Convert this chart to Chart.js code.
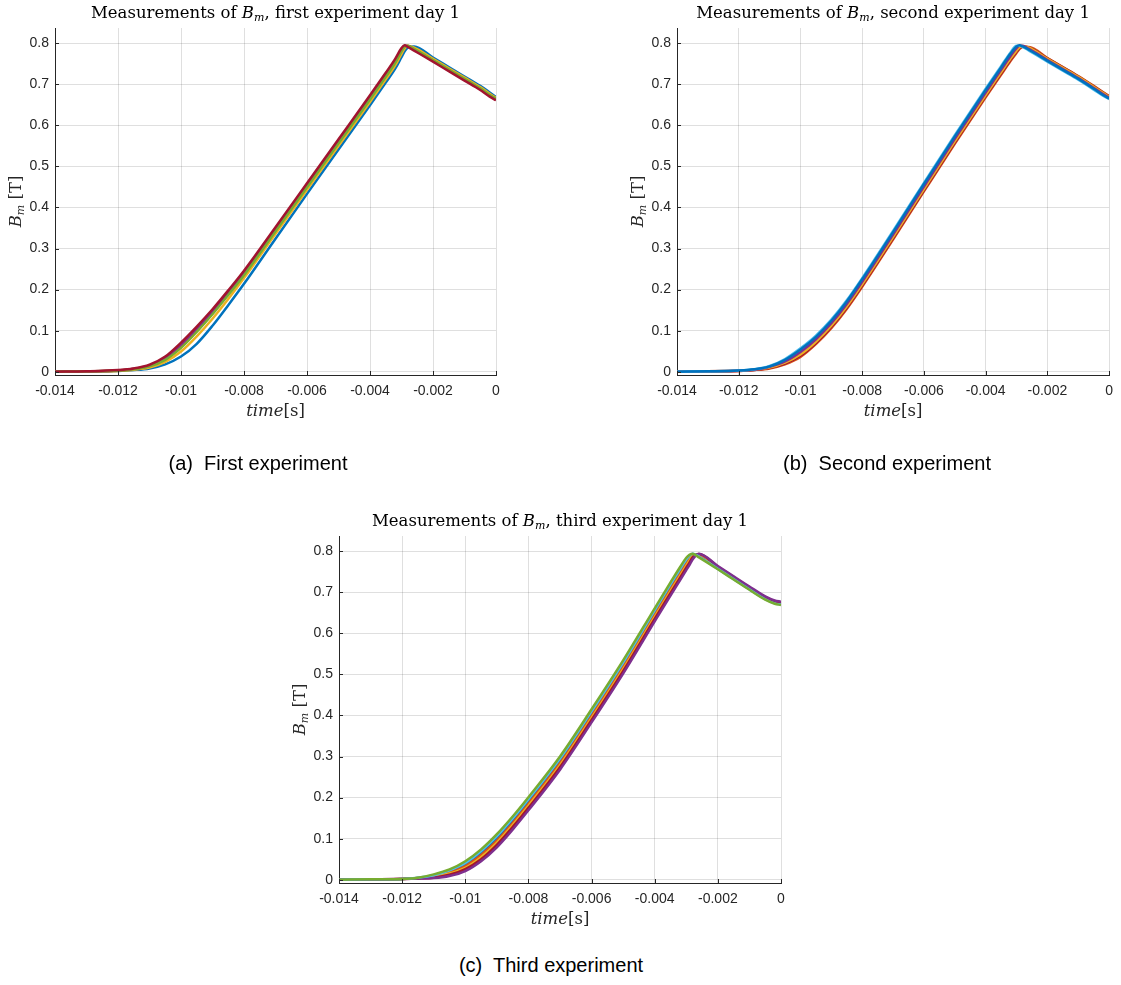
<!DOCTYPE html>
<html>
<head>
<meta charset="utf-8">
<script src="https://cdn.jsdelivr.net/npm/chart.js@4.4.1/dist/chart.umd.min.js"></script>
<style>
  body { margin: 0; background: #fff; width: 1121px; height: 985px; position: relative; overflow: hidden; }
  .box { position: absolute; }
  .cap { position: absolute; font: 20px "Liberation Sans", Arial, sans-serif; color: #000; white-space: pre; transform: translateX(-50%); }
</style>
</head>
<body>
<div class="box" style="left:0;top:0"><canvas id="chart-a" width="520" height="440"></canvas></div>
<div class="box" style="left:620px;top:0"><canvas id="chart-b" width="501" height="440"></canvas></div>
<div class="box" style="left:280px;top:470px"><canvas id="chart-c" width="540" height="470"></canvas></div>
<div class="cap" style="left:258px;top:452px">(a)  First experiment</div>
<div class="cap" style="left:887px;top:452px">(b)  Second experiment</div>
<div class="cap" style="left:551px;top:954px">(c)  Third experiment</div>
<script>
// time axis shared by every trace [s]
const T = [-0.014, -0.013, -0.012, -0.0115, -0.011, -0.0105, -0.01, -0.0095, -0.009, -0.0085, -0.008,
           -0.007, -0.006, -0.005, -0.004, -0.0035, -0.0032, -0.003, -0.0029, -0.0028, -0.0026,
           -0.002, -0.0015, -0.001, -0.0005, -0.0002, 0];

// first experiment
const aRed    = [0.000, 0.001, 0.004, 0.008, 0.017, 0.037, 0.071, 0.110, 0.152, 0.198, 0.246, 0.352, 0.459, 0.566, 0.673, 0.728, 0.762, 0.788, 0.795, 0.791, 0.782, 0.755, 0.732, 0.709, 0.686, 0.670, 0.661];
const aPurple = [0.000, 0.001, 0.003, 0.007, 0.015, 0.034, 0.066, 0.104, 0.146, 0.193, 0.242, 0.348, 0.455, 0.562, 0.669, 0.724, 0.758, 0.785, 0.794, 0.793, 0.784, 0.757, 0.734, 0.711, 0.688, 0.672, 0.663];
const aOrange = [0.000, 0.001, 0.003, 0.007, 0.014, 0.031, 0.062, 0.100, 0.143, 0.190, 0.239, 0.345, 0.452, 0.559, 0.666, 0.721, 0.755, 0.782, 0.793, 0.794, 0.785, 0.758, 0.735, 0.712, 0.689, 0.673, 0.664];
const aGreen  = [0.000, 0.001, 0.003, 0.006, 0.013, 0.029, 0.058, 0.097, 0.140, 0.187, 0.235, 0.342, 0.449, 0.556, 0.663, 0.718, 0.752, 0.780, 0.791, 0.794, 0.786, 0.759, 0.736, 0.713, 0.690, 0.674, 0.665];
const aYellow = [0.000, 0.001, 0.002, 0.005, 0.010, 0.024, 0.049, 0.086, 0.129, 0.177, 0.228, 0.336, 0.443, 0.550, 0.657, 0.712, 0.746, 0.774, 0.787, 0.793, 0.789, 0.762, 0.739, 0.716, 0.693, 0.677, 0.667];
const aBlue   = [0.000, 0.001, 0.002, 0.004, 0.008, 0.018, 0.037, 0.068, 0.112, 0.162, 0.214, 0.324, 0.433, 0.541, 0.649, 0.704, 0.738, 0.766, 0.780, 0.789, 0.792, 0.765, 0.742, 0.719, 0.696, 0.680, 0.669];

// second experiment
const bBlue      = [0.000, 0.001, 0.003, 0.006, 0.013, 0.029, 0.054, 0.085, 0.124, 0.171, 0.225, 0.340, 0.457, 0.573, 0.686, 0.741, 0.774, 0.792, 0.795, 0.792, 0.784, 0.757, 0.735, 0.713, 0.689, 0.674, 0.665];
const bLightBlue = [0.000, 0.001, 0.003, 0.006, 0.014, 0.031, 0.057, 0.088, 0.127, 0.174, 0.228, 0.343, 0.460, 0.576, 0.689, 0.744, 0.777, 0.794, 0.794, 0.791, 0.782, 0.755, 0.733, 0.711, 0.687, 0.672, 0.664];
const bPurple    = [0.000, 0.001, 0.003, 0.005, 0.012, 0.025, 0.048, 0.079, 0.118, 0.165, 0.219, 0.334, 0.451, 0.567, 0.680, 0.735, 0.768, 0.788, 0.794, 0.794, 0.786, 0.759, 0.737, 0.715, 0.691, 0.676, 0.667];
const bYellow    = [0.000, 0.001, 0.003, 0.005, 0.010, 0.022, 0.042, 0.073, 0.112, 0.159, 0.213, 0.328, 0.445, 0.561, 0.674, 0.729, 0.762, 0.782, 0.790, 0.793, 0.789, 0.762, 0.740, 0.718, 0.694, 0.679, 0.669];
const bRed       = [0.000, 0.001, 0.002, 0.004, 0.009, 0.020, 0.039, 0.070, 0.109, 0.156, 0.210, 0.325, 0.442, 0.558, 0.671, 0.726, 0.759, 0.779, 0.788, 0.792, 0.790, 0.763, 0.741, 0.719, 0.695, 0.680, 0.670];
const bOrange    = [0.000, 0.001, 0.002, 0.004, 0.008, 0.018, 0.036, 0.067, 0.106, 0.153, 0.207, 0.322, 0.439, 0.555, 0.668, 0.723, 0.756, 0.776, 0.786, 0.791, 0.791, 0.764, 0.742, 0.720, 0.696, 0.681, 0.671];

// third experiment
const cGreen     = [0.000, 0.001, 0.002, 0.005, 0.013, 0.025, 0.045, 0.074, 0.111, 0.154, 0.201, 0.300, 0.415, 0.534, 0.661, 0.724, 0.761, 0.784, 0.791, 0.794, 0.785, 0.756, 0.731, 0.706, 0.682, 0.672, 0.669];
const cLightBlue = [0.000, 0.001, 0.002, 0.005, 0.011, 0.023, 0.041, 0.070, 0.106, 0.149, 0.196, 0.295, 0.410, 0.529, 0.656, 0.719, 0.756, 0.780, 0.789, 0.794, 0.787, 0.757, 0.732, 0.707, 0.683, 0.673, 0.670];
const cBlue      = [0.000, 0.001, 0.002, 0.004, 0.010, 0.020, 0.037, 0.065, 0.100, 0.143, 0.190, 0.289, 0.404, 0.523, 0.650, 0.713, 0.750, 0.775, 0.785, 0.793, 0.789, 0.759, 0.734, 0.709, 0.685, 0.675, 0.672];
const cOrange    = [0.000, 0.001, 0.002, 0.004, 0.008, 0.017, 0.033, 0.060, 0.095, 0.138, 0.185, 0.284, 0.399, 0.518, 0.645, 0.708, 0.745, 0.770, 0.781, 0.792, 0.791, 0.760, 0.735, 0.710, 0.686, 0.676, 0.673];
const cYellow    = [0.000, 0.001, 0.002, 0.004, 0.007, 0.015, 0.029, 0.055, 0.090, 0.133, 0.180, 0.279, 0.394, 0.513, 0.640, 0.703, 0.740, 0.765, 0.777, 0.789, 0.792, 0.761, 0.736, 0.711, 0.687, 0.677, 0.674];
const cRed       = [0.000, 0.001, 0.002, 0.003, 0.005, 0.012, 0.026, 0.050, 0.085, 0.128, 0.175, 0.274, 0.389, 0.508, 0.635, 0.698, 0.735, 0.760, 0.772, 0.785, 0.793, 0.762, 0.737, 0.712, 0.688, 0.678, 0.675];
const cPurple    = [0.000, 0.001, 0.002, 0.003, 0.004, 0.009, 0.021, 0.045, 0.079, 0.122, 0.169, 0.268, 0.383, 0.502, 0.629, 0.692, 0.729, 0.754, 0.766, 0.780, 0.794, 0.764, 0.739, 0.714, 0.690, 0.680, 0.677];

const xTicks = [-0.014, -0.012, -0.01, -0.008, -0.006, -0.004, -0.002, 0];
const xTickLabels = ['-0.014', '-0.012', '-0.01', '-0.008', '-0.006', '-0.004', '-0.002', '0'];
const yTicks = [0, 0.1, 0.2, 0.3, 0.4, 0.5, 0.6, 0.7, 0.8];
const yTickLabels = ['0', '0.1', '0.2', '0.3', '0.4', '0.5', '0.6', '0.7', '0.8'];

const BLUE = '#0072BD', ORANGE = '#D95319', YELLOW = '#EDB120', PURPLE = '#7E2F8E',
      GREEN = '#77AC30', LIGHTBLUE = '#4DBEEE', DARKRED = '#A2142F';

const serif = '"DejaVu Serif", "Liberation Serif", serif';
const sans = '"Liberation Sans", Arial, sans-serif';
const AXIS = '#262626';

function series(values, color) {
    return {
        data: T.map((t, i) => ({ x: t, y: values[i] })),
        borderColor: color,
        borderWidth: 2.5,
        pointRadius: 0,
        fill: false,
        cubicInterpolationMode: 'monotone'
    };
}

function drawParts(ctx, parts, cx, y) {
    let w = 0;
    parts.forEach(p => { ctx.font = p.font; p.w = ctx.measureText(p.text).width; w += p.w; });
    let x = cx - w / 2;
    parts.forEach(p => { ctx.font = p.font; ctx.fillText(p.text, x, y + (p.dy || 0)); x += p.w; });
}

function titleParts(rest) {
    return [
        { text: 'Measurements of ', font: '16.5px ' + serif },
        { text: 'B', font: 'italic 16.5px ' + serif },
        { text: 'm', font: 'italic 11px ' + serif, dy: 3 },
        { text: rest, font: '16.5px ' + serif }
    ];
}

// titles and axis labels mix upright and italic, so they are drawn here
const matlabLabels = {
    id: 'matlabLabels',
    afterDraw(chart, args, opts) {
        const { ctx, chartArea: a, scales } = chart;
        ctx.save();
        ctx.strokeStyle = AXIS;
        ctx.lineWidth = 1;
        ctx.beginPath();
        xTicks.forEach(v => {
            const px = Math.round(scales.x.getPixelForValue(v)) + 0.5;
            ctx.moveTo(px, a.bottom); ctx.lineTo(px, a.bottom - 4);
        });
        yTicks.forEach(v => {
            const py = Math.round(scales.y.getPixelForValue(v)) + 0.5;
            ctx.moveTo(a.left, py); ctx.lineTo(a.left + 4, py);
        });
        ctx.stroke();

        ctx.textAlign = 'left';
        ctx.textBaseline = 'alphabetic';
        ctx.fillStyle = '#000';
        drawParts(ctx, titleParts(opts.rest), (a.left + a.right) / 2, a.top - 10);

        ctx.fillStyle = AXIS;
        drawParts(ctx, [
            { text: 'time', font: 'italic 16.5px ' + serif },
            { text: '[s]', font: '16.5px ' + serif }
        ], (a.left + a.right) / 2, a.bottom + 41);

        ctx.translate(a.left - 34, (a.top + a.bottom) / 2);
        ctx.rotate(-Math.PI / 2);
        drawParts(ctx, [
            { text: 'B', font: 'italic 16.5px ' + serif },
            { text: 'm', font: 'italic 11px ' + serif, dy: 3 },
            { text: ' [T]', font: '16.5px ' + serif }
        ], 0, 0);
        ctx.restore();
    }
};

function makeChart(id, datasets, rest, yWidth, xHeight, padding) {
    return new Chart(document.getElementById(id), {
        type: 'line',
        data: { datasets: datasets },
        plugins: [matlabLabels],
        options: {
            responsive: false,
            animation: false,
            devicePixelRatio: 1,
            events: [],
            layout: { padding: padding },
            plugins: {
                legend: { display: false },
                tooltip: { enabled: false },
                matlabLabels: { rest: rest }
            },
            scales: {
                x: {
                    type: 'linear',
                    min: -0.014,
                    max: 0,
                    afterBuildTicks: s => { s.ticks = xTicks.map(v => ({ value: v })); },
                    afterFit: s => { s.height = xHeight; },
                    grid: { color: 'rgba(38,38,38,0.15)', drawTicks: false },
                    border: { color: AXIS, width: 1 },
                    ticks: {
                        autoSkip: false, maxRotation: 0, padding: 8,
                        color: AXIS, font: { family: sans, size: 14 },
                        callback: (v, i) => xTickLabels[i]
                    }
                },
                y: {
                    type: 'linear',
                    min: -0.008,
                    max: 0.837,
                    afterBuildTicks: s => { s.ticks = yTicks.map(v => ({ value: v })); },
                    afterFit: s => { s.width = yWidth; },
                    grid: { color: 'rgba(38,38,38,0.15)', drawTicks: false },
                    border: { color: AXIS, width: 1 },
                    ticks: {
                        autoSkip: false, padding: 6,
                        color: AXIS, font: { family: sans, size: 14 },
                        callback: (v, i) => yTickLabels[i]
                    }
                }
            }
        }
    });
}

// first dataset is drawn on top
makeChart('chart-a', [
    series(aRed, DARKRED), series(aGreen, GREEN), series(aPurple, PURPLE),
    series(aOrange, ORANGE), series(aYellow, YELLOW), series(aBlue, BLUE)
], ', first experiment day 1', 55, 65, { top: 28, right: 24, left: 0, bottom: 0 });

makeChart('chart-b', [
    series(bBlue, BLUE), series(bLightBlue, LIGHTBLUE), series(bPurple, PURPLE),
    series(bYellow, YELLOW), series(bRed, DARKRED), series(bOrange, ORANGE)
], ', second experiment day 1', 57, 65, { top: 28, right: 4, left: 0, bottom: 0 });

makeChart('chart-c', [
    series(cGreen, GREEN), series(cLightBlue, LIGHTBLUE), series(cPurple, PURPLE),
    series(cRed, DARKRED), series(cYellow, YELLOW), series(cOrange, ORANGE), series(cBlue, BLUE)
], ', third experiment day 1', 59, 57, { top: 66, right: 39, left: 0, bottom: 0 });
</script>
</body>
</html>
